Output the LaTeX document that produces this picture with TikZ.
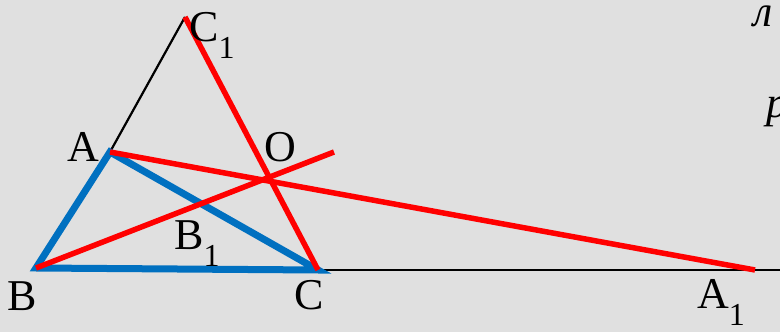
\documentclass[tikz,border=0pt]{standalone}
\usepackage{fontspec}
\setmainfont{Liberation Serif}
\definecolor{bgGray}{RGB}{224,224,224}
\definecolor{sideBlue}{RGB}{0,112,192}
\newcommand{\idx}[1]{\raisebox{-0.38em}{\fontsize{32}{32}\selectfont #1}}

\begin{document}
\begin{tikzpicture}[
  x=1pt, y=1pt,
  lbl/.style={inner sep=0pt, anchor=base west, font=\fontsize{44}{44}\selectfont},
  side/.style={draw=sideBlue, line width=7pt},
  ray/.style={draw=red, line width=5.5pt},
  seg/.style={draw=black, line width=2.2pt}
]
\useasboundingbox (0,0) rectangle (780,332);
\clip (0,0) rectangle (780,332);
\fill[bgGray] (0,0) rectangle (780,332);
% points
\coordinate (A) at (110,180);
\coordinate (B) at (36,64);
\coordinate (C) at (318,62);
\coordinate (C1) at (185,315);
\coordinate (A1) at (755,62);
\coordinate (Bend) at (334,180);
\coordinate (Cend) at (790,62);
% black lines
\draw[seg] (A) -- (C1);
\draw[seg] (C) -- (Cend);
% triangle
\draw[side] (A) -- (B) -- (C) -- cycle;
% red lines
\draw[ray] (A) -- (A1);
\draw[ray] (C1) -- (C);
\draw[ray] (B) -- (Bend);
% labels
\node[lbl] (lC1) at (189,290) {C\idx{1}};
\node[lbl] (lA) at (67,170) {A};
\node[lbl] (lO) at (264,170) {O};
\node[lbl] (lB1) at (174,82) {B\idx{1}};
\node[lbl] (lB) at (7,21) {B};
\node[lbl] (lC) at (294,22) {C};
\node[lbl] (lA1) at (697,23) {A\idx{1}};
\node[lbl] (tL) at (753,305) {\itshape л};
\node[lbl] (tR) at (766,214) {\itshape р};
\end{tikzpicture}
\end{document}
